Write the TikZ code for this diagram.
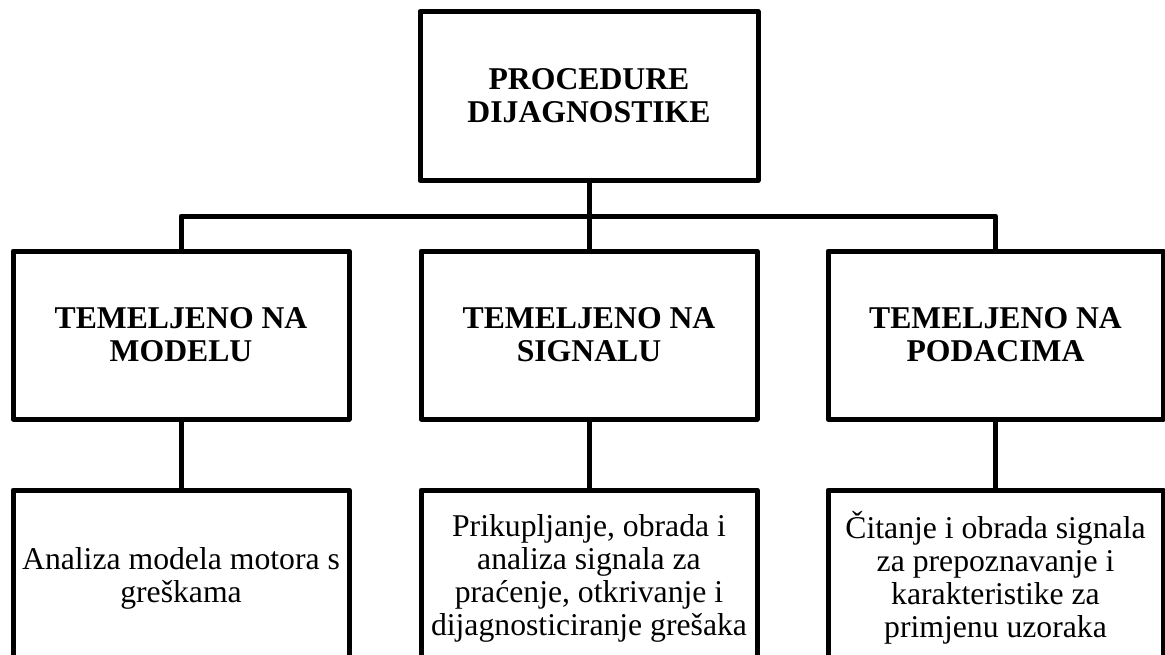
\documentclass[tikz,border=0pt]{standalone}
\usepackage{fontspec}
\setmainfont{Liberation Serif}
\begin{document}
\begin{tikzpicture}[x=1pt,y=-1pt,
  box/.style={draw=black, line width=5pt, line join=round, rectangle, inner sep=0pt,
    align=center, font=\fontsize{31.7}{33}\selectfont},
  headbox/.style={box, font=\bfseries\fontsize{31.7}{33}\selectfont},
  conn/.style={draw=black, line width=5pt, line join=round}]
\useasboundingbox (0,0) rectangle (1165,654);
\node[headbox, minimum width=338pt, minimum height=169pt] (top) at (589,96) {PROCEDURE\\DIJAGNOSTIKE};
\node[headbox, minimum width=336pt, minimum height=168pt] (m1) at (181,335) {TEMELJENO NA\\MODELU};
\node[headbox, minimum width=336pt, minimum height=168pt] (m2) at (589,335) {TEMELJENO NA\\SIGNALU};
\node[headbox, minimum width=335pt, minimum height=168pt] (m3) at (995.5,335) {TEMELJENO NA\\PODACIMA};
\node[box, minimum width=336pt, minimum height=176pt] (b1) at (181,578) {Analiza modela motora s\\greškama};
\node[box, minimum width=336pt, minimum height=176pt] (b2) at (589,578) {Prikupljanje, obrada i\\analiza signala za\\praćenje, otkrivanje i\\dijagnosticiranje grešaka};
\node[box, minimum width=335pt, minimum height=176pt] (b3) at (995.5,578) {Čitanje i obrada signala\\za prepoznavanje i\\karakteristike za\\primjenu uzoraka};
\coordinate (bar) at (589,216);
\draw[conn] (top.south) -- (m2.north);
\draw[conn] (m1.north) -- (m1.north |- bar) -- (m3.north |- bar) -- (m3.north);
\draw[conn] (m1.south) -- (b1.north);
\draw[conn] (m2.south) -- (b2.north);
\draw[conn] (m3.south) -- (b3.north);
\end{tikzpicture}
\end{document}
